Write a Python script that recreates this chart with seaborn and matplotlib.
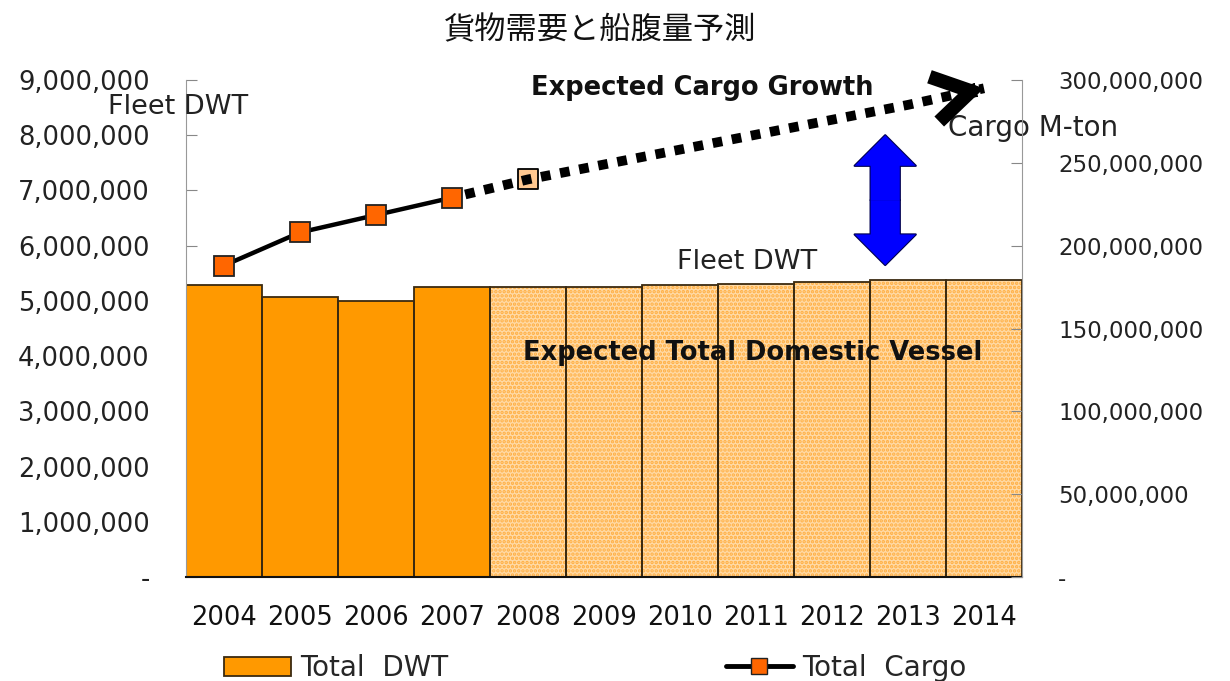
import matplotlib
matplotlib.use("Agg")
import matplotlib.pyplot as plt
import seaborn as sns
import pandas as pd
import numpy as np
from matplotlib.patches import Patch, FancyArrowPatch
from matplotlib.lines import Line2D
from matplotlib.ticker import FuncFormatter

# ---------------- data ----------------
years = ["2004", "2005", "2006", "2007", "2008", "2009", "2010", "2011", "2012", "2013", "2014"]
fleet_dwt = [5290000, 5070000, 5000000, 5250000, 5250000, 5250000, 5290000, 5310000, 5350000, 5380000, 5380000]
actual_years = ["2004", "2005", "2006", "2007"]
cargo_actual = [188000000, 208000000, 218500000, 229000000]
forecast_years = ["2007", "2008", "2009", "2010", "2011", "2012", "2013", "2014"]
cargo_forecast = [229000000, 240000000, 249000000, 258000000, 267000000, 276000000, 285000000, 295000000]
marker_2008 = ["2008"]
cargo_2008 = [240000000]
left_ticks = [0, 1000000, 2000000, 3000000, 4000000, 5000000, 6000000, 7000000, 8000000, 9000000]
right_ticks = [0, 50000000, 100000000, 150000000, 200000000, 250000000, 300000000]
n_actual = 4

ORANGE = "#FF9900"
PEACH = "#FFDAA6"
HATCH = "#FFAE40"
EDGE = "#3A2A10"

sns.set_style("white")
plt.rcParams["font.family"] = ["DejaVu Sans"]
plt.rcParams["hatch.linewidth"] = 1.7

fig = plt.figure(figsize=(12.3, 6.81), dpi=100)
ax = fig.add_axes([0.1512, 0.1527, 0.6797, 0.7298])

df = pd.DataFrame({"year": years, "dwt": fleet_dwt})
colors = [ORANGE] * n_actual + [PEACH] * (len(years) - n_actual)
sns.barplot(data=df, x="year", y="dwt", hue="year", palette=colors, legend=False,
            width=1.0, ax=ax, saturation=1, linewidth=0, zorder=1)
for i, p in enumerate(ax.patches):
    if i >= n_actual:
        p.set_hatch("....")
        p.set_edgecolor(HATCH)
        p.set_linewidth(0)
# outlines
sns.barplot(data=df, x="year", y="dwt", fill=False, width=1.0, ax=ax,
            edgecolor=EDGE, linewidth=1.3, errorbar=None, zorder=2)

ax.set_xlim(-0.5, len(years) - 0.5)
ax.set_ylim(0, 9000000)
ax.set_yticks(left_ticks)
ax.yaxis.set_major_formatter(FuncFormatter(lambda v, p: "-" if v == 0 else f"{v:,.0f}"))
ax.set_xlabel("")
ax.set_ylabel("")
ax.tick_params(axis="y", direction="in", length=8, color="#888888", pad=26,
               labelsize=18.5, labelcolor="#222222")
ax.tick_params(axis="x", length=0, pad=20, labelsize=18.5, labelcolor="#111111")
ax.spines["top"].set_visible(False)
ax.spines["left"].set_color("#999999")
ax.spines["right"].set_visible(False)
ax.spines["bottom"].set_color("#111111")
ax.spines["bottom"].set_linewidth(1.5)

# ---------------- right axis: cargo ----------------
ax2 = ax.twinx()
ax2.set_ylim(0, 300000000)
ax2.set_yticks(right_ticks)
ax2.yaxis.set_major_formatter(FuncFormatter(lambda v, p: "-" if v == 0 else f"{v:,.0f}"))
ax2.tick_params(axis="y", direction="in", length=8, color="#888888", pad=26,
                labelsize=16.5, labelcolor="#222222")
for s in ["top", "left", "bottom"]:
    ax2.spines[s].set_visible(False)
ax2.spines["right"].set_color("#999999")

xpos = {y: i for i, y in enumerate(years)}
fc_x = [xpos[y] for y in forecast_years]
ax2.plot(fc_x, cargo_forecast, color="black", lw=7, linestyle=(0.6, (1.0, 1.0)),
         solid_capstyle="butt", dash_capstyle="butt", zorder=3)
# 2008 forecast marker
sns.scatterplot(x=[xpos[y] for y in marker_2008], y=cargo_2008, marker="s", s=190,
                color="#FFC890", edgecolor="black", linewidth=1.3, ax=ax2, zorder=2.5)
# chevron arrow head at end of forecast line
x_end, y_end = fc_x[-1], cargo_forecast[-1]
x_prev, y_prev = fc_x[-2], cargo_forecast[-2]
f = 0.12
ax2.annotate("", xy=(x_end, y_end),
             xytext=(x_end - f * (x_end - x_prev), y_end - f * (y_end - y_prev)),
             arrowprops=dict(arrowstyle="->,head_length=0.9,head_width=0.55",
                             lw=10, color="black", mutation_scale=30,
                             shrinkA=0, shrinkB=0, joinstyle="miter", capstyle="butt"),
             zorder=4)

act_df = pd.DataFrame({"x": [xpos[y] for y in actual_years], "cargo": cargo_actual})
sns.lineplot(data=act_df, x="x", y="cargo", color="black", lw=3.2, marker="s",
             markersize=15, markerfacecolor="#FF6600", markeredgecolor="#222222",
             markeredgewidth=1.3, ax=ax2, zorder=5)
ax2.set_xlabel("")
ax2.set_ylabel("")
ax2.set_xlim(-0.5, len(years) - 0.5)

# ---------------- blue double arrow ----------------
arrow_x = 8.7
y_top, y_bot = 8000000, 5650000
y_mid = (y_top + y_bot) / 2
for lw, ec in [(1.6, "#000050"), (0, "none")]:
    for yt in (y_top, y_bot):
        a = FancyArrowPatch((arrow_x, y_mid), (arrow_x, yt),
                            arrowstyle="simple,head_length=2.2,head_width=4.4,tail_width=2.1",
                            mutation_scale=10, facecolor="#0000FF", edgecolor=ec,
                            linewidth=lw, shrinkA=0, shrinkB=0, zorder=6)
        ax.add_patch(a)

# ---------------- texts ----------------
fig.text(0.488, 0.955, "貨物需要と船腹量予測", ha="center", va="center", fontsize=22.5,
         family=["Noto Sans CJK JP", "DejaVu Sans"], color="#111111")
ax.text(-0.0096, 0.9457, "Fleet DWT", transform=ax.transAxes, ha="center", va="center",
        fontsize=19.5, color="#222222")
ax.text(0.617, 0.984, "Expected Cargo Growth", transform=ax.transAxes, ha="center",
        va="center", fontsize=18.5, fontweight="bold", color="#111111")
ax.text(1.013, 0.903, "Cargo M-ton", transform=ax.transAxes, ha="center", va="center",
        fontsize=20, color="#222222", zorder=7)
ax.text(0.671, 0.634, "Fleet DWT", transform=ax.transAxes, ha="center", va="center",
        fontsize=19.5, color="#222222")
ax.text(0.678, 0.451, "Expected Total Domestic Vessel", transform=ax.transAxes,
        ha="center", va="center", fontsize=18.5, fontweight="bold", color="#111111", zorder=8)

# ---------------- legend ----------------
handles = [Patch(facecolor=ORANGE, edgecolor=EDGE, linewidth=1.3),
           Line2D([0], [0], color="black", lw=3.5, marker="s", markersize=11,
                  markerfacecolor="#FF6600", markeredgecolor="#222222")]
fig.legend(handles, ["Total  DWT", "Total  Cargo"], loc="center",
           bbox_to_anchor=(0.484, 0.019), ncol=2, frameon=False, fontsize=20,
           handlelength=2.4, handleheight=0.7, handletextpad=0.35, columnspacing=10.0)

fig.savefig("out.png", dpi=100)
